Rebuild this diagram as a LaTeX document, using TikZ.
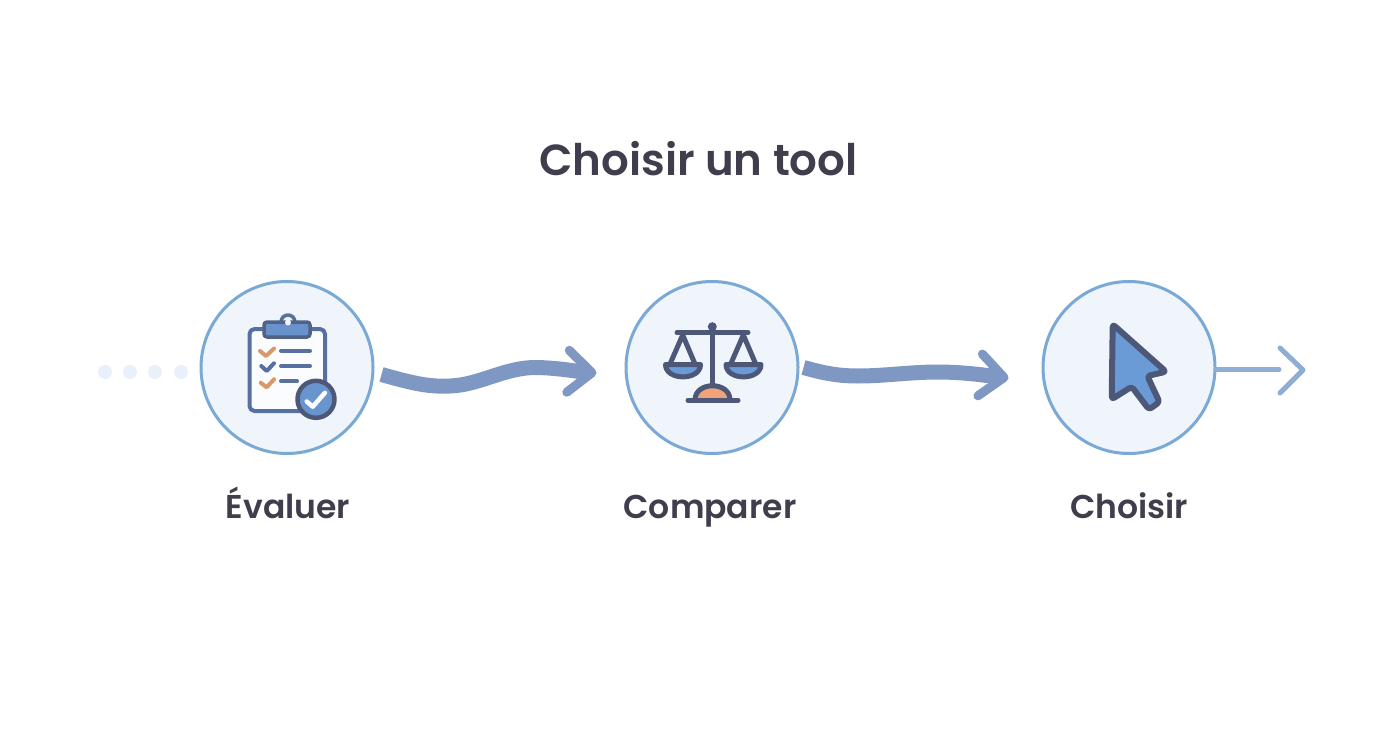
\documentclass[tikz,border=0pt]{standalone}
\usepackage{fontspec}
\setmainfont{Poppins}[BoldFont=Poppins SemiBold]
\usetikzlibrary{positioning, arrows.meta}
\definecolor{inktext}{HTML}{403E4C}
\definecolor{ringblue}{HTML}{7AA9D6}
\definecolor{ringfill}{HTML}{F0F5FC}
\definecolor{flowblue}{HTML}{7F97C3}
\definecolor{exitblue}{HTML}{8EAED5}
\definecolor{dotblue}{HTML}{E8F1FA}
\definecolor{slate}{HTML}{56709F}
\definecolor{darkslate}{HTML}{4D5878}
\definecolor{midblue}{HTML}{6B9BD6}
\definecolor{peach}{HTML}{F0A27A}
\definecolor{tick}{HTML}{D9986A}
\begin{document}
\begin{tikzpicture}[x=1pt, y=-1pt, line join=round, line cap=round]
% Define styles
\tikzstyle{stepcircle} = [circle, minimum size=172pt, inner sep=0pt, line width=3pt, draw=ringblue, fill=ringfill]
\tikzstyle{steplabel} = [font=\fontsize{33}{38}\selectfont\bfseries, text=inktext, text height=20pt, text depth=6pt]
\tikzstyle{lead} = [circle, minimum size=14pt, inner sep=0pt, fill=dotblue]
\tikzstyle{flow} = [line width=15pt, line cap=butt, draw=flowblue, -{Straight Barb[length=24pt, width=42pt, line width=9pt, round]}]
\tikzstyle{exit} = [line width=5pt, draw=exitblue]
\tikzstyle{iconline} = [line width=4pt, draw=slate]
\tikzstyle{scaleline} = [line width=5pt, draw=darkslate]
\useasboundingbox (0,0) rectangle (1392,752);
% Place nodes
\node (title) [anchor=base, font=\fontsize{43.5}{50}\selectfont\bfseries, text=inktext] at (698.5,175) {Choisir un tool};
\node (evaluer) [stepcircle] at (287,367.5) {};
\node (comparer) [stepcircle, right=250pt of evaluer] {};
\node (choisir) [stepcircle, right=242pt of comparer] {};
\node (evaluerlabel) [steplabel, below of=evaluer, node distance=143.5pt, xshift=1pt] {Évaluer};
\node (comparerlabel) [steplabel, below of=comparer, node distance=143.5pt, xshift=-2pt] {Comparer};
\node (choisirlabel) [steplabel, below of=choisir, node distance=143.5pt] {Choisir};
\foreach \i/\x in {1/105,2/130,3/155,4/181}
  \node (dot\i) [lead] at (\x,372) {};
\coordinate (exitend) at (1279,369.5);
% Draw arrows
\draw [flow] ([xshift=7pt,yshift=-7pt]evaluer.east) .. controls (415,384) and (430,387) .. (450,386) .. controls (480,385) and (505,367) .. (537,367.5) .. controls (560,368) and (580,372) .. ([xshift=-28pt,yshift=-5.5pt]comparer.west);
\draw [flow] ([xshift=4pt]comparer.east) .. controls (820,372) and (835,376) .. (858,376) .. controls (885,376) and (910,372) .. (938,372) .. controls (965,372) and (990,376) .. ([xshift=-33pt,yshift=-10.5pt]choisir.west);
\draw [exit] ([yshift=-2pt]choisir.east) -- (exitend);
\draw [exit] (1280,348) -- (1303,370) -- (1280,393);
% Clipboard icon
\draw [iconline, fill=white!70!ringfill, rounded corners=5pt] (249.5,329) rectangle (325,411);
\draw [line width=3.5pt, draw=slate, fill=ringfill] (288,322) circle (7);
\draw [line width=3.5pt, draw=darkslate!60!slate, fill=midblue!80!slate, rounded corners=3pt] (264,322) rectangle (310,337);
\fill [ringfill] (288,322.5) circle (3);
\draw [iconline, draw=tick] (260,351) -- (266,356) -- (274,348.5);
\draw [iconline] (261.3,366) -- (266.7,371) -- (274,363.3);
\draw [iconline, draw=tick] (260.7,382.7) -- (266.7,387.3) -- (274,379.3);
\draw [iconline] (281,350.7) -- (310,350.7);
\draw [iconline] (281,366) -- (310,366);
\draw [iconline] (281,381.3) -- (297,381.3);
\draw [line width=4.5pt, draw=darkslate, fill=midblue!85!slate] (316,399.3) circle (18.5);
\draw [line width=4.5pt, draw=white] (306.7,401.5) -- (312.7,406.7) -- (325,392.7);
% Scales icon
\draw [scaleline] (712.3,327) -- (712.3,387);
\fill [darkslate] (712.3,326.7) circle (4.5);
\draw [scaleline] (677,332.7) -- (748,332.7);
\draw [scaleline] (670,364) -- (682.7,335) -- (695,364);
\draw [scaleline] (730.7,364) -- (743.3,335) -- (755.7,364);
\draw [scaleline, fill=midblue] (665.5,364.5) -- (700.5,364.5) .. controls (700.5,381) and (665.5,381) .. cycle;
\draw [scaleline, fill=midblue] (726,364.5) -- (761,364.5) .. controls (761,381) and (726,381) .. cycle;
\draw [scaleline, fill=peach] (695,400) .. controls (695,381) and (730,381) .. (730,400);
\draw [scaleline] (688,400.3) -- (738,400.3);
% Cursor icon
\draw [line width=6pt, draw=darkslate, fill=midblue, rounded corners=3pt] (1112.7,324.3) -- (1166,371.7) -- (1147.3,376) -- (1159.5,402) -- (1149,409.5) -- (1131.7,386.7) -- (1111.7,399.3) -- cycle;
\end{tikzpicture}
\end{document}
